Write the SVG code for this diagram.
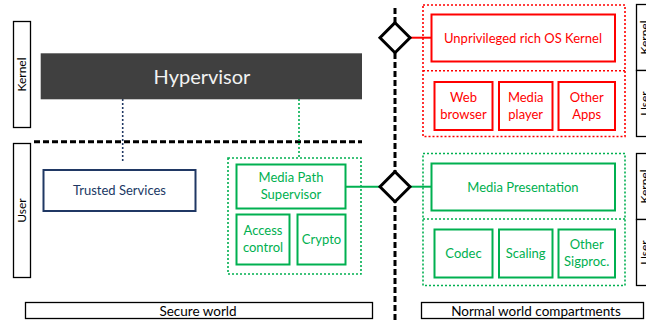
<svg xmlns="http://www.w3.org/2000/svg" width="646" height="320" viewBox="0 0 646 320">
<style>
text{font-family:Lato,"Open Sans","Liberation Sans",sans-serif;font-size:13px;text-anchor:middle}
.lab{fill:#fff;stroke:#000;stroke-width:1.3}
.lt{fill:#000;font-size:12px}
.bt{fill:#000;font-size:13.5px}
.g{fill:#fff;stroke:#00B050;stroke-width:2}
.gt{fill:#00B050}
.r{fill:#fff;stroke:#FF0000;stroke-width:2}
.rt{fill:#FF0000}
.gd{fill:none;stroke:#00B050;stroke-width:1.6;stroke-dasharray:2 2}
.rd{fill:none;stroke:#FF0000;stroke-width:1.6;stroke-dasharray:2 2}
.bd{fill:none;stroke:#000;stroke-width:3;stroke-dasharray:6 3}
.dia{fill:#fff;stroke:#000;stroke-width:3}
.hv{fill:#F2F2F2;font-size:20px}
</style>
<rect width="646" height="320" fill="#fff"/>

<!-- side labels -->
<g id="label-kernel-left">
<rect class="lab" x="13.5" y="21.5" width="17" height="106"/>
<text class="lt" transform="translate(26,74.5) rotate(-90)">Kernel</text>
</g>
<g id="label-user-left">
<rect class="lab" x="13.5" y="143.5" width="17" height="134"/>
<text class="lt" transform="translate(26,210.5) rotate(-90)">User</text>
</g>
<g id="label-kernel-right-top">
<rect class="lab" x="636.5" y="4.5" width="20" height="66"/>
<text class="lt" transform="translate(649,37.5) rotate(-90)">Kernel</text>
</g>
<g id="label-user-right-top">
<rect class="lab" x="636.5" y="70.5" width="20" height="66"/>
<text class="lt" transform="translate(649,103.5) rotate(-90)">User</text>
</g>
<g id="label-kernel-right-bottom">
<rect class="lab" x="636.5" y="153.5" width="20" height="66"/>
<text class="lt" transform="translate(649,186.5) rotate(-90)">Kernel</text>
</g>
<g id="label-user-right-bottom">
<rect class="lab" x="636.5" y="219.5" width="20" height="66"/>
<text class="lt" transform="translate(649,252.5) rotate(-90)">User</text>
</g>
<g id="label-secure-world">
<rect class="lab" x="25.5" y="302.5" width="347" height="16"/>
<text class="bt" x="198" y="315.5">Secure world</text>
</g>
<g id="label-normal-world">
<rect class="lab" x="421.5" y="302.5" width="222" height="16"/>
<text class="bt" x="536" y="315.5">Normal world compartments</text>
</g>

<!-- connectors -->
<g id="connectors">
<line class="bd" x1="34" y1="141.7" x2="362" y2="141.7"/>
<line class="bd" x1="395" y1="8" x2="395" y2="320"/>
<line x1="122.7" y1="99" x2="122.7" y2="162" stroke="#203864" stroke-width="1.6" stroke-dasharray="2 2"/>
<line x1="299" y1="99" x2="299" y2="158" stroke="#00B050" stroke-width="1.6" stroke-dasharray="2 2"/>
<line x1="345.7" y1="186.7" x2="381" y2="186.7" stroke="#00B050" stroke-width="2"/>
<line x1="410" y1="186.7" x2="431" y2="186.7" stroke="#00B050" stroke-width="2"/>
<line x1="410" y1="37.7" x2="431" y2="37.7" stroke="#FF0000" stroke-width="2"/>
<polygon class="dia" points="395,22.7 410,37.7 395,52.7 380,37.7"/>
<polygon class="dia" points="395,171.7 410,186.7 395,201.7 380,186.7"/>
</g>

<!-- secure world -->
<g id="hypervisor">
<rect x="40.7" y="53.3" width="321.3" height="46" fill="#404040"/>
<text class="hv" x="202" y="83.5">Hypervisor</text>
</g>
<g id="trusted-services">
<rect x="43.5" y="170" width="152" height="41" fill="#fff" stroke="#203864" stroke-width="2"/>
<text x="119.5" y="195" fill="#203864">Trusted Services</text>
</g>
<g id="secure-media-container">
<rect class="gd" x="228" y="158" width="133" height="116"/>
</g>
<g id="media-path-supervisor">
<rect class="g" x="236.5" y="164.5" width="109" height="44"/>
<text class="gt" x="291" y="182">Media Path</text>
<text class="gt" x="291" y="199">Supervisor</text>
</g>
<g id="access-control">
<rect class="g" x="236.5" y="214.5" width="53" height="50"/>
<text class="gt" x="263" y="235">Access</text>
<text class="gt" x="263" y="252">control</text>
</g>
<g id="crypto">
<rect class="g" x="297.5" y="214.5" width="48" height="50"/>
<text class="gt" x="321.5" y="244">Crypto</text>
</g>

<!-- normal world red -->
<g id="rich-os-container">
<rect class="rd" x="423" y="5" width="202" height="131.5"/>
<line class="rd" x1="423" y1="70.7" x2="625" y2="70.7"/>
</g>
<g id="rich-os-kernel">
<rect class="r" x="431.5" y="14.5" width="183.5" height="47"/>
<text class="rt" x="523" y="42.5">Unprivileged rich OS Kernel</text>
</g>
<g id="web-browser">
<rect class="r" x="434.5" y="82" width="58" height="48"/>
<text class="rt" x="463.5" y="102">Web</text>
<text class="rt" x="463.5" y="119">browser</text>
</g>
<g id="media-player">
<rect class="r" x="499" y="82" width="53.5" height="48"/>
<text class="rt" x="525.7" y="102">Media</text>
<text class="rt" x="525.7" y="119">player</text>
</g>
<g id="other-apps">
<rect class="r" x="558.5" y="82" width="56.5" height="48"/>
<text class="rt" x="586.7" y="102">Other</text>
<text class="rt" x="586.7" y="119">Apps</text>
</g>

<!-- normal world green -->
<g id="media-container">
<rect class="gd" x="423" y="153.5" width="202" height="132"/>
<line class="gd" x1="423" y1="219" x2="625" y2="219"/>
</g>
<g id="media-presentation">
<rect class="g" x="431.5" y="163.5" width="183.5" height="47"/>
<text class="gt" x="523" y="191.5">Media Presentation</text>
</g>
<g id="codec">
<rect class="g" x="434.5" y="229.5" width="58" height="48"/>
<text class="gt" x="463.5" y="258">Codec</text>
</g>
<g id="scaling">
<rect class="g" x="499" y="229.5" width="53.5" height="48"/>
<text class="gt" x="525.7" y="258">Scaling</text>
</g>
<g id="other-sigproc">
<rect class="g" x="558.5" y="229.5" width="56.5" height="48"/>
<text class="gt" x="586.7" y="249">Other</text>
<text class="gt" x="586.7" y="266">Sigproc.</text>
</g>
</svg>
